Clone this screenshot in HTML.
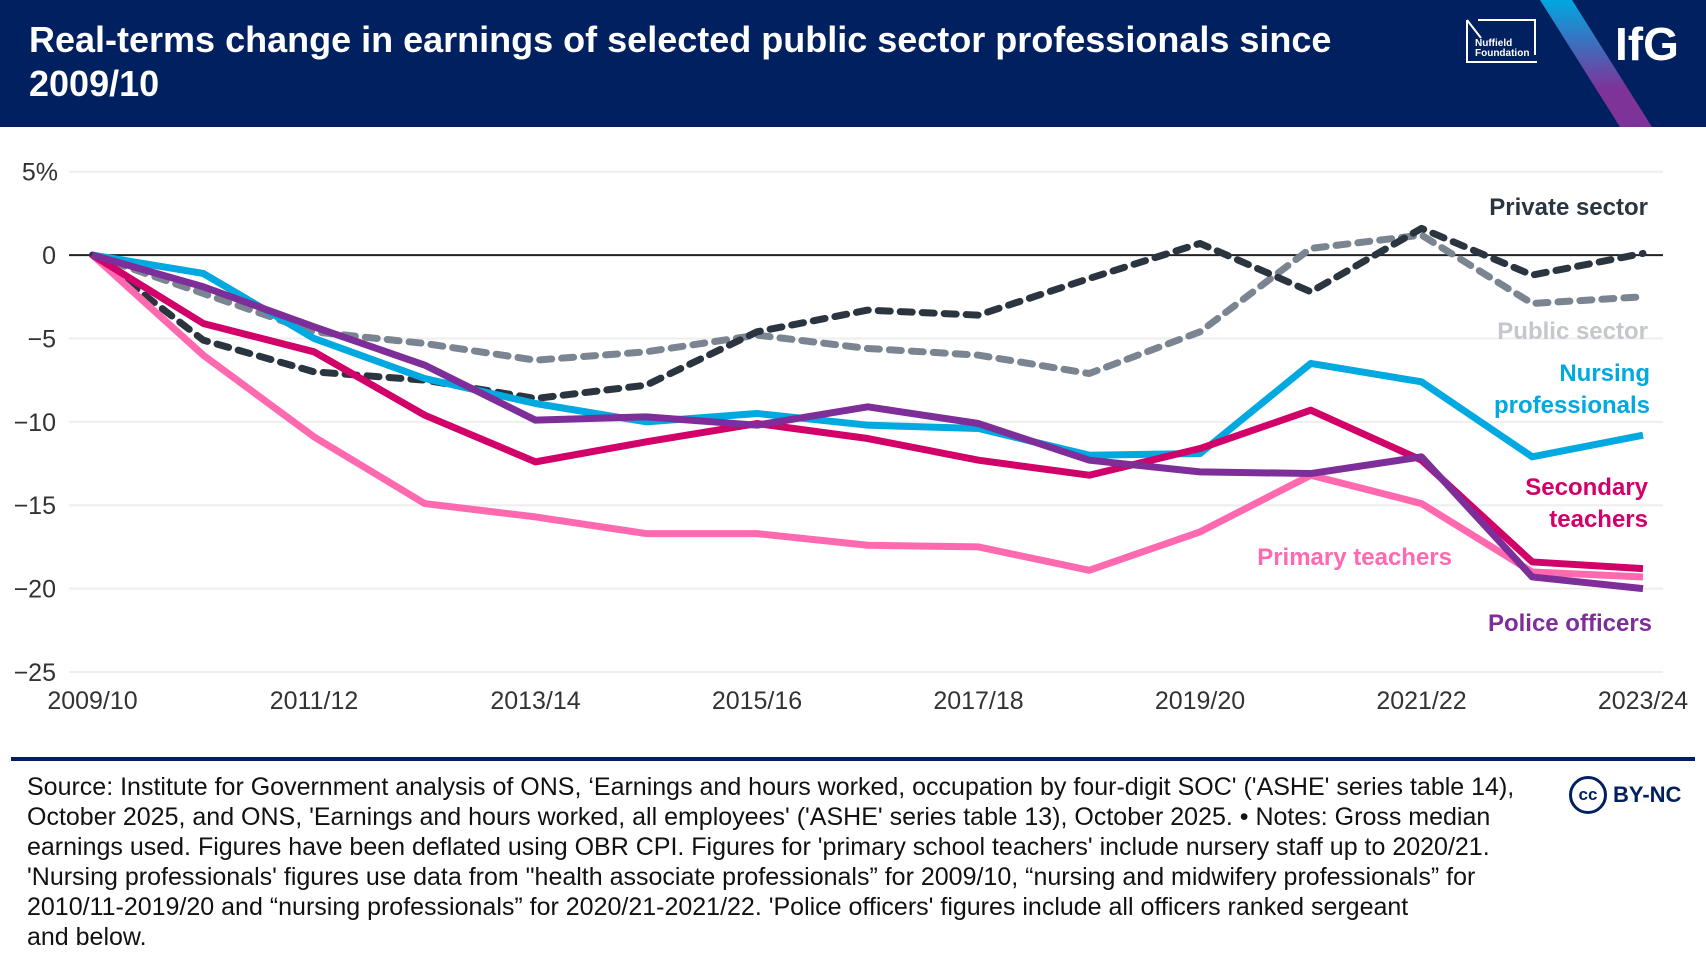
<!DOCTYPE html>
<html><head><meta charset="utf-8">
<style>
body{margin:0;width:1706px;height:968px;overflow:hidden;background:#fff;font-family:"Liberation Sans",sans-serif;}
#hdr{position:absolute;left:0;top:0;width:1706px;height:127px;background:#00205f;overflow:hidden;}
#title{position:absolute;left:29px;top:18px;color:#fff;font-weight:bold;font-size:36px;line-height:44px;}
#foot{position:absolute;left:27px;top:772px;font-size:25px;line-height:30px;color:#111;white-space:nowrap;}
</style></head><body>
<div id="hdr">
  <div id="title">Real-terms change in earnings of selected public sector professionals since<br>2009/10</div>
  <svg width="1706" height="127" style="position:absolute;left:0;top:0">
    <defs><linearGradient id="g" x1="0" y1="0" x2="0" y2="1"><stop offset="0" stop-color="#00a8e0"/><stop offset="0.7" stop-color="#7e3399"/><stop offset="1" stop-color="#7e3399"/></linearGradient></defs>
    <g>
      <polyline points="1467,20 1467,62 1537,62" fill="none" stroke="#fff" stroke-width="2"/>
      <polyline points="1467,20 1481,38" fill="none" stroke="#fff" stroke-width="2"/>
      <polyline points="1478,20 1535,20 1535,55" fill="none" stroke="#fff" stroke-width="2"/>
      <text x="1475" y="46" fill="#fff" font-size="10" font-weight="bold">Nuffield</text>
      <text x="1475" y="56" fill="#fff" font-size="10" font-weight="bold">Foundation</text>
    </g>
    <polygon points="1540,0 1572,0 1652,127 1620,127" fill="url(#g)"/>
    <text x="1615" y="60" fill="#fff" font-size="46" font-weight="bold">IfG</text>
  </svg>
</div>
<svg id="chart" width="1706" height="760" style="position:absolute;left:0;top:0"></svg>
<div style="position:absolute;left:11px;top:757px;width:1684px;height:4px;background:#00205f"></div>
<div id="foot">Source: Institute for Government analysis of ONS, ‘Earnings and hours worked, occupation by four-digit SOC' ('ASHE' series table 14),<br>October 2025, and ONS, 'Earnings and hours worked, all employees' ('ASHE' series table 13), October 2025. • Notes: Gross median<br>earnings used. Figures have been deflated using OBR CPI. Figures for 'primary school teachers' include nursery staff up to 2020/21.<br>'Nursing professionals' figures use data from "health associate professionals” for 2009/10, “nursing and midwifery professionals” for<br>2010/11-2019/20 and “nursing professionals” for 2020/21-2021/22. 'Police officers' figures include all officers ranked sergeant<br>and below.</div>
<div style="position:absolute;left:1569px;top:776px;width:38px;height:38px;border:3.5px solid #00205f;border-radius:50%;box-sizing:border-box;color:#00205f;font-weight:bold;font-size:17px;line-height:31px;text-align:center">cc</div>
<div style="position:absolute;left:1613px;top:782px;color:#00205f;font-weight:bold;font-size:22px">BY-NC</div>
<script>
const years=["2009/10","2010/11","2011/12","2012/13","2013/14","2014/15","2015/16","2016/17","2017/18","2018/19","2019/20","2020/21","2021/22","2022/23","2023/24"];
const tickYears=["2009/10","2011/12","2013/14","2015/16","2017/18","2019/20","2021/22","2023/24"];
const yTicks=[5,0,-5,-10,-15,-20,-25];
const privateSector=[0,-5.1,-7,-7.5,-8.6,-7.8,-4.6,-3.3,-3.6,-1.4,0.7,-2.2,1.6,-1.2,0.1];
const publicSector=[0,-2.3,-4.6,-5.3,-6.3,-5.8,-4.8,-5.6,-6,-7.1,-4.6,0.4,1.2,-2.9,-2.5];
const nursing=[0,-1.1,-5,-7.4,-8.9,-10,-9.5,-10.2,-10.4,-12,-11.9,-6.5,-7.6,-12.1,-10.8];
const secondary=[0,-4.1,-5.8,-9.6,-12.4,-11.2,-10.1,-11,-12.3,-13.2,-11.6,-9.3,-12.3,-18.4,-18.8];
const primary=[0,-6,-10.9,-14.9,-15.7,-16.7,-16.7,-17.4,-17.5,-18.9,-16.6,-13.2,-14.9,-19,-19.3];
const police=[0,-1.9,-4.3,-6.6,-9.9,-9.7,-10.2,-9.1,-10.1,-12.3,-13,-13.1,-12.1,-19.3,-20];

const NS="http://www.w3.org/2000/svg",svg=document.getElementById('chart');
const X0=92.5,X1=1643,Y5=171.7,Y25=672;
const xs=i=>X0+(X1-X0)*i/(years.length-1);
const ys=v=>Y5+(5-v)*(Y25-Y5)/30;
function mk(t,a){const e=document.createElementNS(NS,t);for(const k in a)e.setAttribute(k,a[k]);svg.appendChild(e);return e;}
yTicks.forEach(v=>{
  const l=mk('line',{x1:69,x2:1663,y1:ys(v),y2:ys(v),stroke:v===0?'#222':'#eee','stroke-width':2});
  
  
  const t=mk('text',{x:v===5?58:56,y:ys(v)+9,'text-anchor':'end','font-size':25,fill:'#333','font-family':'Liberation Sans'});
  t.textContent=v===5?'5%':(v<0?'−'+(-v):String(v));
  
  
});
tickYears.forEach(y=>{
  const i=years.indexOf(y);
  const t=mk('text',{x:xs(i),y:709,'text-anchor':'middle','font-size':25,fill:'#333'});
  t.textContent=y;
  
  
});
const series=[
 [publicSector,'#7a8591','12 10','public-sector-line'],
 [privateSector,'#2b3540','12 10','private-sector-line'],
 [primary,'#ff69b0',null,'primary-teachers-line'],
 [nursing,'#00a9e0',null,'nursing-professionals-line'],
 [secondary,'#d20069',null,'secondary-teachers-line'],
 [police,'#7e2e99',null,'police-officers-line']];
series.forEach(([d,c,dash,name])=>{
  const a={points:d.map((v,i)=>xs(i)+','+ys(v)).join(' '),fill:'none',stroke:c,'stroke-width':7,'stroke-linejoin':'round'};
  if(dash){a['stroke-dasharray']=dash;a['stroke-linecap']='round';}
  const p=mk('polyline',a);
  
  
});
const labels=[['Private sector',1648,215,'#2b3540'],['Public sector',1648,339,'#c4c8cc'],['Nursing',1650,381,'#00a9e0'],['professionals',1650,413,'#00a9e0'],['Secondary',1648,495,'#d20069'],['teachers',1648,527,'#d20069'],['Primary teachers',1452,565,'#ff69b0'],['Police officers',1652,631,'#7e2e99']];
labels.forEach(([s,x,y,c])=>{
  const t=mk('text',{x:x,y:y,'text-anchor':'end','font-size':24,'font-weight':'bold',fill:c});
  t.textContent=s;
  
  
});
</script>
</body></html>
